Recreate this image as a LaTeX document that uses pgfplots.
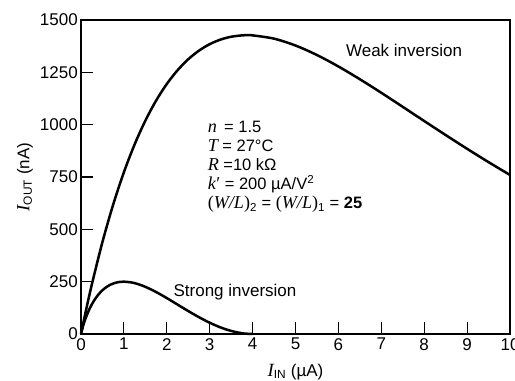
\documentclass[border=0pt]{standalone}
\usepackage{pgfplots}
\pgfplotsset{compat=1.18}
\usepackage{fontspec}
\setmainfont{Liberation Sans}
\newfontfamily\tnr[Scale=1.1]{Liberation Serif}
\newcommand\vv[1]{{\tnr\itshape #1}}
\begin{document}
\begin{tikzpicture}
\begin{axis}[
  scale only axis,
  width=429bp, height=314bp,
  xmin=0, xmax=10, ymin=0, ymax=1500,
  xtick={0,1,...,10},
  ytick={0,250,500,750,1000,1250,1500},
  tick align=inside,
  xtick pos=bottom, ytick pos=left,
  major tick length=12bp,
  tick style={line width=1.2bp, black},
  axis line style={line width=1.2bp},
  /pgf/number format/assume math mode=true,
  /pgf/number format/1000 sep={},
  ticklabel style={font=\fontsize{17bp}{20bp}\selectfont},
  yticklabel style={inner sep=3bp},
  xticklabel style={inner sep=4bp},
  xlabel={\vv{I}\textsubscript{IN} (µA)},
  ylabel={\vv{I}\textsubscript{OUT} (nA)},
  label style={font=\fontsize{17bp}{20bp}\selectfont},
  xlabel style={at={(axis description cs:0.5,-0.121)}, anchor=center},
  ylabel style={at={(axis description cs:-0.1305,0.5)}, anchor=center, rotate=0},
  clip=false,
]
\draw[line width=2bp] (rel axis cs:0,1) -- (rel axis cs:0,0) -- (rel axis cs:1,0);
\addplot[black, line width=2.5bp, smooth] coordinates {
(0,0) (0.1,97.5) (0.25,234.4) (0.5,439.5) (0.75,618.2) (1.0,772.8)
(1.25,905.7) (1.5,1019.0) (1.75,1114.7) (2.0,1194.5) (2.25,1259.8)
(2.5,1312.5) (2.75,1353.6) (3.0,1384.6) (3.25,1406.3) (3.5,1420.0)
(3.75,1426.5) (3.88,1427.4) (4.0,1426.6) (4.5,1410.9) (5.0,1378.1)
(5.5,1332.7) (6.0,1278.0) (6.5,1217.1) (7.0,1152.3) (7.5,1085.1)
(8.0,1017.5) (8.5,950.5) (9.0,884.7) (9.5,821.0) (10,759.7)
};
\addplot[black, line width=2.5bp, smooth] coordinates {
(0,0) (0.05,39.4) (0.1,70.9) (0.2,120.6) (0.3,158.2) (0.4,187.0)
(0.5,209.0) (0.6,225.2) (0.7,236.8) (0.8,244.5) (0.9,248.7) (1.0,250)
(1.2,245.5) (1.4,233.5) (1.6,216.1) (1.8,195.1) (2.0,171.6) (2.2,146.9)
(2.4,121.9) (2.6,97.6) (2.8,74.7) (3.0,53.8) (3.2,35.7) (3.4,20.7)
(3.6,9.5) (3.8,2.4) (4.0,0)
};
\node[font=\fontsize{17bp}{20bp}\selectfont] at (axis cs:7.53,1357) {Weak inversion};
\node[font=\fontsize{17bp}{20bp}\selectfont] at (axis cs:3.59,201) {Strong inversion};
\node[anchor=north west, align=left, inner sep=0pt,
      font=\fontsize{16.5bp}{19bp}\selectfont] at (axis cs:2.95,1017) {%
\vv{n}\, = 1.5\\
\vv{T} = 27°C\\
\vv{R} =10 kΩ\\
\vv{k}\kern0.5pt{\tnr\char"2032} = 200 µA/V\textsuperscript{2}\\
{\tnr(\itshape W/L\/\upshape)}\textsubscript{2} = {\tnr(\itshape W/L\/\upshape)}\textsubscript{1} = \textbf{25}};
\end{axis}
\pgfresetboundingbox
\path (current axis.south west) ++(-81bp,-47bp) rectangle (current axis.north east);
\path (current axis.north east) ++(5bp,20bp);
\end{tikzpicture}
\end{document}
